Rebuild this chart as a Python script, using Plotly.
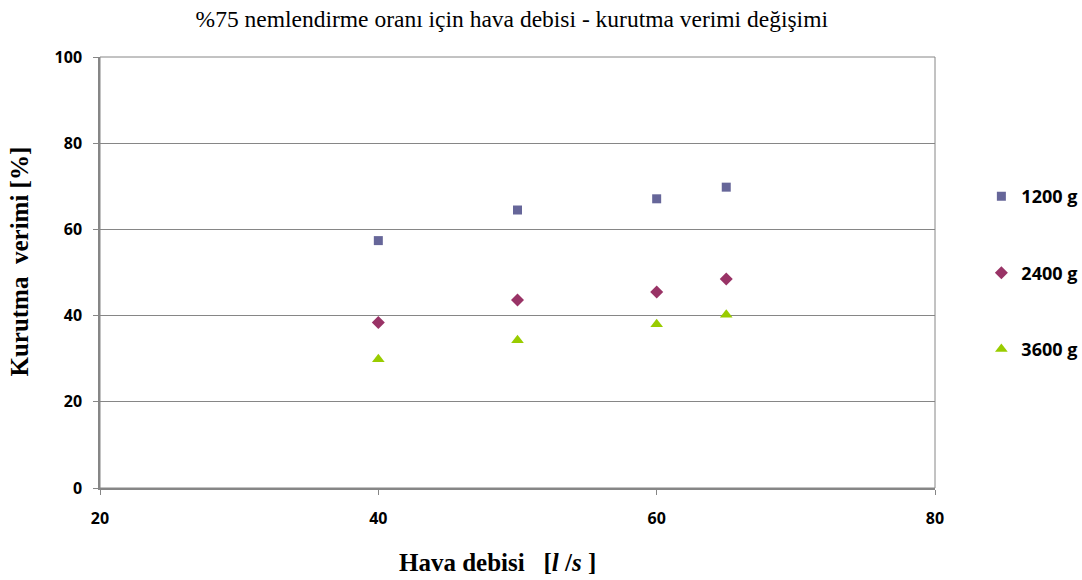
import plotly.graph_objects as go

# Air flow rate [l/s]
hava_debisi = [40, 50, 60, 65]

# Drying efficiency [%] per product mass
verim_1200 = [57.4, 64.5, 67.1, 69.8]
verim_2400 = [38.4, 43.6, 45.5, 48.5]
verim_3600 = [29.9, 34.3, 38.0, 40.2]

series = [
    ("1200 g", verim_1200, "square", "#666699", 9),
    ("2400 g", verim_2400, "diamond", "#993366", 10),
    ("3600 g", verim_3600, "triangle-up", "#99CC00", 11),
]

fig = go.Figure()
for i, (name, vals, sym, col, sz) in enumerate(series):
    fig.add_trace(go.Scatter(
        x=hava_debisi, y=vals, mode="markers", name=name,
        legendgroup=f"g{i}",
        marker=dict(symbol=sym, color=col, size=sz, line=dict(width=0)),
    ))

axis_common = dict(
    showline=True, linecolor="#868686", linewidth=1.5, mirror=False,
    ticks="outside", ticklen=5, tickcolor="#868686",
    tickfont=dict(family="Open Sans", size=16, color="#000000", weight="bold"),
    zeroline=False, automargin=False,
)

serif_bold = dict(family="Liberation Serif", size=25, color="#000000", weight="bold")

fig.update_layout(
    width=1082, height=580,
    margin=dict(l=100, r=147, t=57, b=92, autoexpand=False),
    paper_bgcolor="white", plot_bgcolor="white",
    title=dict(
        text="%75 nemlendirme oranı için hava debisi - kurutma verimi değişimi",
        x=0.473, xanchor="center", y=0.968, yanchor="middle",
        font=dict(family="Liberation Serif", size=23.5, color="#000000"),
    ),
    xaxis=dict(
        range=[20, 80], tickvals=[20, 40, 60, 80], showgrid=False,
        ticklabelstandoff=10,
        **axis_common,
    ),
    yaxis=dict(
        range=[0, 100], tickvals=[0, 20, 40, 60, 80, 100],
        showgrid=True, gridcolor="#868686", gridwidth=1,
        ticklabelstandoff=8,
        **axis_common,
    ),
    legend=dict(
        xref="container", yref="container",
        x=0.907, y=0.693, xanchor="left", yanchor="top",
        tracegroupgap=50, itemwidth=30,
        font=dict(family="Open Sans", size=18, color="#000000", weight="bold"),
        bgcolor="rgba(0,0,0,0)",
    ),
    shapes=[dict(type="rect", xref="paper", yref="paper", x0=0, x1=1, y0=0, y1=1,
                 line=dict(color="#868686", width=1), layer="below")],
    annotations=[
        dict(text="Hava debisi   [<i>l</i> /<i>s</i> ]", xref="paper", yref="paper",
             x=0.476, y=-0.174, xanchor="center", yanchor="middle",
             showarrow=False, font=serif_bold),
        dict(text="Kurutma  verimi [%]", xref="paper", yref="paper",
             x=-0.096, y=0.525, xanchor="center", yanchor="middle", textangle=-90,
             showarrow=False, font=serif_bold),
    ],
)

fig.write_html("out.html")
